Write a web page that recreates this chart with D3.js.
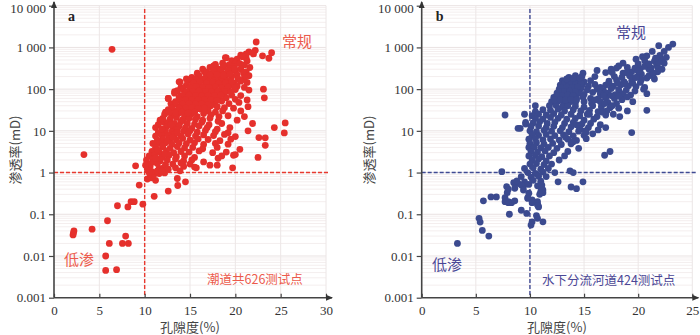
<!DOCTYPE html>
<html>
<head>
<meta charset="utf-8">
<script src="https://cdn.jsdelivr.net/npm/d3@7"></script>
<style>
  body { margin: 0; background: #fff; }
  svg { display: block; }
</style>
</head>
<body>
<svg id="chart" width="700" height="335"></svg>
<script>
// permeability tick values + labels (shared by both panels)
const permTicks = [0.001, 0.01, 0.1, 1, 10, 100, 1000, 10000];
const permTickLabels = ["0.001", "0.01", "0.1", "1", "10", "100", "1 000", "10 000"];
const porTicksA = [0, 5, 10, 15, 20, 25, 30];
const porTicksB = [0, 5, 10, 15, 20, 25];

// panel a: tidal channel, [porosity %, permeability mD]
const channelPts = [
  [6.4,900],[3.3,2.7],[9.0,1.45],[2.1,0.032],[2.2,0.04],[2.15,0.036],[4.2,0.044],[5.9,0.07],[5.7,0.01],[5.7,0.0045],
  [6.9,0.0047],[6.1,0.02],[7.55,0.02],[8.2,0.02],[7.9,0.03],[7.0,0.16],[8.15,0.15],[8.5,0.2],[8.85,0.2],[9.8,0.175],
  [9.4,0.5],[11.05,0.27],[12.6,0.36],[13.65,0.49],[14.5,0.6],[13.6,0.72],[10.3,0.7],[10.7,0.75],[11.2,0.65],[11.0,0.88],
  [10.6,0.92],[11.6,0.95],[12.2,0.98],[19.7,1.3],[18.0,1.5],[15.5,1.35],[15.7,1.3],[13.4,1.3],[14.3,1.4],[13.9,1.1],
  [11.6,1.25],[12.1,1.3],[10.6,1.4],[10.3,1.2],
  [25.5,15.5],[25.4,8.9],[24.3,12],[22.6,6.9],[23.3,6.8],[23.3,4.5],[22.5,2.3],[21.4,10],[21.9,15],[23.2,62],
  [23.1,100],[22.3,1350],[22.2,850],[24.0,750],[23.0,630],[23.7,550],[18.9,570],[13.8,150],[12.6,60],[13.0,24],
  [12.1,16],[13.3,87],[17.8,360],[21.2,550],[21.5,780],[21.2,700],[20.6,650],
  [19.0,560],[19.6,480],[20.2,520],[20.8,600],[21.3,470],[20.0,420],[22.0,700],
  [17.8,390],[18.6,420],[19.3,380],[19.9,350],[20.5,410],[21.0,380],[21.6,330],[18.2,300],
  [16.4,300],[17.2,330],[18.0,290],[18.7,340],[19.4,310],[20.0,280],[20.6,300],[21.2,260],[17.6,360],
  [15.8,240],[16.6,260],[17.3,230],[18.1,250],[18.8,235],[19.5,260],[20.2,220],[20.9,245],[21.5,210],[16.9,200],
  [15.2,190],[16.0,210],[16.7,185],[17.5,205],[18.2,195],[18.9,180],[19.6,200],[20.3,175],[21.0,190],[15.6,175],
  [13.9,150],[15.0,160],[15.7,145],[16.4,170],[17.1,155],[17.8,165],[18.5,150],[19.2,160],[19.9,140],[20.6,155],[21.3,145],[14.6,175],
  [14.6,125],[15.3,130],[16.0,118],[16.7,128],[17.4,120],[18.1,132],[18.8,115],[19.5,125],[20.2,118],[21.0,110],[14.0,110],
  [14.2,100],[15.0,95],[15.7,105],[16.4,98],[17.1,102],[17.8,94],[18.5,100],[19.2,92],[20.0,98],[21.5,95],[13.6,92],
  [13.3,80],[14.5,82],[15.3,77],[16.0,84],[16.7,79],[17.4,76],[18.1,82],[18.8,78],[19.6,72],[20.6,70],[14.0,70],
  [12.6,60],[13.8,63],[14.6,66],[15.3,60],[16.0,64],[16.8,61],[17.5,66],[18.2,58],[19.0,62],[20.0,57],[21.3,55],
  [13.4,50],[14.1,48],[14.9,52],[15.6,47],[16.3,51],[17.0,49],[17.7,46],[18.5,52],[19.3,45],[20.4,48],[12.9,45],
  [13.0,40],[13.8,38],[14.5,41],[15.2,39],[15.9,42],[16.6,37],[17.3,40],[18.0,38],[18.8,36],[19.8,35],[21.4,38],
  [12.6,32],[13.4,30],[14.1,33],[14.8,31],[15.5,29],[16.2,33],[17.0,30],[17.8,28],[18.6,30],[20.6,30],[12.3,28],
  [12.2,25],[13.0,24],[13.7,26],[14.4,23],[15.1,25],[15.8,22],[16.5,26],[17.3,24],[18.2,22],[19.2,23],[21.0,22],
  [12.0,20],[12.8,19],[13.5,21],[14.2,18.5],[14.9,20],[15.6,19],[16.4,18],[17.2,20],[18.1,17],[20.2,18],[11.7,18],
  [12.6,16],[13.3,15],[14.0,16.5],[14.7,15],[15.5,14.5],[16.3,16],[17.1,14],[18.5,15],[11.5,14],
  [12.4,12.5],[13.1,12],[13.8,13],[14.5,12],[15.2,11.5],[16.0,13],[16.9,12],[18.0,11],[19.4,12],[11.2,12],
  [12.3,10],[13.0,9.5],[13.6,10.5],[14.3,9.8],[15.0,10],[15.8,9.3],[16.7,10.2],[17.8,9.5],[19.2,9],[11.5,9],
  [11.9,8],[12.6,7.8],[13.3,8.2],[14.0,7.6],[14.8,8.4],[15.6,7.5],[16.5,8],[17.6,7.7],[18.8,8.2],[20.0,7.3],[11.2,7.5],
  [12.0,6.3],[12.8,6.5],[13.5,6.1],[14.2,6.6],[15.0,6],[15.9,6.4],[17.0,6.2],[18.3,5.8],[19.5,6.3],[11.4,6],
  [11.6,5],[12.3,5.2],[13.0,4.8],[13.8,5.1],[14.6,4.9],[15.5,5.2],[16.5,4.7],[17.8,5],[19.2,4.8],[10.9,5],
  [11.2,4],[12.0,4.1],[12.8,3.8],[13.6,4.2],[14.4,3.9],[15.3,4],[16.4,3.7],[18.0,4],[20.5,3.6],
  [10.8,3.2],[11.6,3.1],[12.4,3.3],[13.2,3],[14.0,3.2],[14.9,3.1],[16.0,3.3],[17.5,3],[19.0,3.1],[20.0,2.7],
  [10.5,2.5],[11.1,2.6],[11.9,2.4],[12.7,2.6],[13.5,2.4],[14.4,2.5],[15.5,2.3],[18.5,2.5],[19.8,2.6],
  [10.2,2],[10.9,2.1],[11.7,1.9],[12.5,2],[13.4,2.1],[14.3,1.9],[15.2,2],[16.5,1.8],[18.1,2.2],
  [10.6,1.6],[11.4,1.65],[12.3,1.55],[13.1,1.6],[14.0,1.7],[15.0,1.6],[17.2,1.5],[10.1,1.5],
  [10.8,1.05],[11.4,1.1],[12.6,1.2],[10.5,1.0],[11.9,1.08],
  [15.4,140],[16.1,150],[16.8,140],[17.5,145],[18.2,138],[18.9,142],[19.6,150],
  [15.0,110],[15.7,115],[16.4,110],[17.1,108],[17.8,112],[18.5,108],[19.2,112],[19.9,108],
  [14.6,87],[15.3,88],[16.0,90],[16.7,88],[17.4,86],[18.1,89],[18.8,88],[19.5,85],
  [14.2,70],[14.9,72],[15.6,70],[16.3,69],[17.0,71],[17.7,70],[18.4,72],
  [13.8,56],[14.5,55],[15.2,56],[15.9,55],[16.6,56],[17.3,55],[18.0,54],
  [13.4,44],[14.2,44],[14.9,45],[15.6,44],[16.3,44],[17.0,43],
  [13.0,35],[13.8,35],[14.5,35],[15.2,36],[15.9,34],[16.6,35],
  [12.7,28],[13.4,27],[14.1,28],[14.8,27],[15.5,28],
  [16.8,260],[17.6,270],[18.4,275],[19.2,280],[19.9,300],[17.2,220],[18.0,225],[18.7,215],[19.4,230],
  [11.0,1.8],[11.8,2.2],[12.2,2.8],[11.4,3.5],[12.0,4.5],[12.5,5.8],[13.1,7],[13.6,9],[12.9,14],[11.9,11],[11.2,2.2]
];

// panel b: underwater distributary channel
const deltaPts = [
  [23.2,1200],[22.8,1000],[21.9,1100],[22.4,800],[21.3,800],[20.8,630],[20.4,600],[22.0,640],[22.2,500],[21.5,470],
  [19.8,520],[20.6,480],[18.6,420],[18.2,360],[21.2,320],[22.4,420],[20.0,400],[21.7,380],[17.5,300],[14.9,240],
  [16.0,200],[20.8,78],[20.8,31],[19.4,9.1],[19.5,50],[7.7,24],[9.1,11.5],[8.9,11.5],[9.6,14.5],[10.5,40],
  [10.5,29],[10.2,23],[9.5,25],[7.4,1.05],[5.7,0.21],[6.4,0.26],[6.9,0.26],[5.3,0.08],[5.4,0.065],[5.6,0.041],
  [6.2,0.03],[3.3,0.02],[8.1,0.1],[9.2,0.125],[9.7,0.105],[10.2,0.066],[10.1,0.055],[10.6,0.093],[10.7,0.08],[11.2,0.066],
  [10.7,0.17],[10.8,0.15],[11.0,0.35],[11.2,0.38],[12.6,0.6],[13.8,0.45],[14.3,0.41],[14.9,0.6],[13.7,1.1],[12.3,1.0],
  [14.0,1.0],[16.9,2.6],[17.4,3.2],[7.7,0.2],[7.9,0.33],[8.0,0.19],[8.3,0.19],[8.6,0.21],[9.8,0.24],[8.5,0.57],
  [8.9,0.55],[9.4,0.46],[8.6,0.42],[7.85,0.46],[9.9,0.32],[10.2,0.22],
  [19.0,330],[20.2,310],[21.0,300],[21.8,340],[16.2,280],
  [17.0,250],[18.6,240],[19.4,260],[20.3,230],[21.3,250],[20.0,200],
  [13.6,190],[14.2,210],[14.8,200],[17.8,200],[18.5,190],[19.2,210],[20.8,185],[21.5,175],
  [13.0,160],[13.5,170],[14.0,155],[14.5,165],[15.0,150],[15.6,160],[17.3,155],[18.0,165],[18.7,150],[19.4,160],[20.2,145],
  [12.8,125],[13.3,130],[13.8,120],[14.3,128],[14.8,122],[15.4,118],[16.0,130],[17.0,125],[17.7,118],[18.4,128],[19.1,120],[19.8,115],[20.6,110],
  [12.7,100],[13.2,95],[13.7,104],[14.2,98],[14.7,102],[15.3,96],[16.2,100],[16.8,92],[17.5,103],[18.2,97],[18.9,95],[19.7,90],[20.5,100],
  [12.5,80],[13.0,78],[13.5,82],[14.0,76],[14.5,80],[15.0,75],[15.8,84],[16.5,78],[17.2,80],[17.9,74],[18.6,78],[19.3,72],
  [12.2,63],[12.8,60],[13.3,65],[13.8,62],[14.3,60],[14.9,64],[15.6,60],[16.3,58],[17.0,62],[17.8,60],[18.5,56],
  [12.0,50],[12.6,52],[13.1,48],[13.7,50],[14.2,47],[15.0,50],[15.7,46],[16.5,50],[17.2,48],[18.0,45],
  [11.8,40],[12.4,41],[13.0,38],[13.5,40],[14.2,39],[15.0,37],[15.8,40],[16.6,38],[17.4,36],[18.2,35],
  [11.2,32],[11.9,31],[12.6,33],[13.2,30],[14.0,32],[14.7,30],[15.5,31],[16.3,29],[17.1,30],
  [10.8,25],[11.5,24],[12.2,26],[12.9,24],[13.8,25],[14.6,23],[15.3,25],[16.2,22],[17.0,24],
  [10.5,20],[11.2,19],[11.9,21],[12.6,20],[13.4,19],[14.2,20],[15.0,18],[15.9,19],
  [9.6,16],[10.3,15.5],[10.9,16.5],[11.6,15],[12.3,16],[13.2,15],[14.0,16],[14.8,14.5],[15.6,15],[16.5,14],
  [10.1,12.5],[10.8,13],[11.5,12],[12.2,12.8],[13.0,12],[13.8,12.5],[14.6,11.5],[15.4,12],
  [10.0,10],[10.6,9.5],[11.3,10.3],[12.0,9.8],[12.8,10],[13.6,9.5],[14.5,9.8],[15.2,9.2],
  [10.2,8],[10.8,7.8],[11.5,8.2],[12.3,7.7],[13.1,8],[14.0,7.6],[15.0,7.8],
  [9.9,6.3],[10.5,6.5],[11.2,6.1],[11.9,6.4],[12.7,6],[13.5,6.3],[14.3,5.9],
  [10.0,5],[10.6,5.2],[11.3,4.8],[12.1,5],[12.9,4.7],[13.8,4.9],
  [9.9,4],[10.4,4.1],[11.0,3.9],[11.7,4],[12.5,3.8],
  [10.1,3.2],[10.7,3.1],[11.4,3.3],[12.2,3],[13.5,3.2],
  [9.9,2.5],[10.5,2.6],[11.1,2.4],[11.8,2.5],
  [10.2,2],[10.8,2.1],[11.5,1.9],
  [10.0,1.6],[10.6,1.65],[11.3,1.55],[12.0,1.6],
  [9.5,1.25],[10.3,1.3],[11.0,1.2],[11.7,1.25],
  [9.8,1],[10.5,0.95],[11.2,1.02],
  [9.2,0.8],[10.1,0.78],[10.8,0.82],[11.5,0.8],
  [8.8,0.63],[9.5,0.6],[10.3,0.65],[11.0,0.62],
  [9.2,0.5],[9.9,0.52],[10.7,0.48],[11.1,0.5],
  [8.0,0.4],[9.4,0.38],[11.1,0.42],
  [10.9,0.3],[11.2,0.33],[7.7,0.25],[9.8,0.25],
  [8.0,0.2],[10.2,0.19],[10.7,0.2],[10.75,0.16],
  [13.2,140],[13.7,145],[14.2,140],[14.7,138],[12.9,110],[13.4,112],[13.9,108],[14.4,112],
  [12.7,88],[13.2,88],[13.7,90],[14.2,87],[12.5,70],[13.0,70],[13.5,72],[14.0,70],
  [12.3,55],[12.8,56],[13.3,55],[13.8,57],[14.3,55],[13.4,175],[14.0,180],[14.6,185],
  [16.5,110],[17.3,140],[18.1,140],[18.8,135],[19.5,140],[16.8,70],[17.5,70],[18.2,68],[19.0,65],
  [16.0,55],[16.9,45],[17.6,40],[15.5,25],[16.7,28],[17.7,25],[18.3,22],[19.0,30],
  [14.3,14],[15.1,10],[15.8,8.5],[16.3,10.5],[17.0,12],[13.3,7],[14.0,5.5],[15.2,6.5],[14.5,3.8],[13.2,2.5],[12.7,2],
  [19.5,180],[20.3,170],[21.0,210],[21.8,260],[22.2,300],[21.4,230],[19.8,190],[18.9,250],[19.7,320],[20.6,350],
  [21.0,400],[21.9,450],[21.6,550],[22.6,580],[20.0,270],[18.0,320],[17.6,250]
];

const svg = d3.select("#chart");
const serif = "'Liberation Serif','DejaVu Serif',serif";
const cjk = "'Noto Sans CJK SC','Noto Sans CJK JP',sans-serif";

function drawPanel(cfg) {
  const x = d3.scaleLinear().domain([0, cfg.xMax]).range([cfg.left, cfg.right]);
  const y = d3.scaleLog().domain([0.001, 10000]).range([297.7, 5.7]);
  const g = svg.append("g");

  // faint minor grid (log minors)
  const minors = [];
  for (let e = -3; e < 4; e++) for (let k = 2; k <= 9; k++) minors.push(k * Math.pow(10, e));
  g.selectAll(".minor").data(minors).join("line")
    .attr("x1", cfg.left).attr("x2", cfg.right)
    .attr("y1", d => y(d)).attr("y2", d => y(d))
    .attr("stroke", "#f4eeee").attr("stroke-width", 1);
  g.selectAll(".major").data(permTicks.slice(1)).join("line")
    .attr("x1", cfg.left).attr("x2", cfg.right)
    .attr("y1", d => y(d)).attr("y2", d => y(d))
    .attr("stroke", "#e9e2e2").attr("stroke-width", 1);
  g.selectAll(".vgrid").data(cfg.xTicks.slice(1)).join("line")
    .attr("x1", d => x(d)).attr("x2", d => x(d))
    .attr("y1", y(10000)).attr("y2", y(0.001))
    .attr("stroke", "#ece6e6").attr("stroke-width", 1);

  // dashed cut-off lines
  g.append("line")
    .attr("x1", cfg.left).attr("x2", cfg.right + 4)
    .attr("y1", y(1)).attr("y2", y(1))
    .attr("stroke", cfg.color).attr("stroke-width", 1.4).attr("stroke-dasharray", "4,2");
  g.append("line")
    .attr("x1", x(10)).attr("x2", x(10))
    .attr("y1", 9).attr("y2", y(0.001))
    .attr("stroke", cfg.color).attr("stroke-width", 1.4).attr("stroke-dasharray", "4,2");

  // points
  g.selectAll("circle").data(cfg.data).join("circle")
    .attr("cx", d => x(d[0])).attr("cy", d => y(d[1]))
    .attr("r", 3.4).attr("fill", cfg.fill);

  // axes
  const yAxis = d3.axisLeft(y).tickValues(permTicks)
    .tickFormat((d, i) => permTickLabels[i]).tickSize(5).tickPadding(3);
  const ya = g.append("g").attr("transform", `translate(${cfg.left},0)`).call(yAxis);
  ya.select(".domain").remove();
  ya.selectAll("line").attr("stroke", "#444").attr("stroke-width", 1.2);
  ya.selectAll("text").attr("font-family", serif).attr("font-size", 13).attr("fill", "#333")
    .attr("dy", d => d === 10000 ? "0.5em" : "0.32em");

  const xAxis = d3.axisBottom(x).tickValues(cfg.xTicks).tickSize(-4).tickPadding(8);
  const xa = g.append("g").attr("transform", `translate(0,${y(0.001)})`).call(xAxis);
  xa.select(".domain").remove();
  xa.selectAll("line").attr("stroke", "#444").attr("stroke-width", 1.2);
  xa.selectAll("text").attr("font-family", serif).attr("font-size", 13).attr("fill", "#333");

  // axis lines with arrows
  g.append("line").attr("x1", cfg.left).attr("x2", cfg.left)
    .attr("y1", y(0.001)).attr("y2", 2).attr("stroke", "#444").attr("stroke-width", 1.6);
  g.append("path").attr("d", `M${cfg.left},1 l-3,7 l6,0 z`).attr("fill", "#333");
  g.append("line").attr("x1", cfg.left).attr("x2", cfg.right + 6)
    .attr("y1", y(0.001)).attr("y2", y(0.001)).attr("stroke", "#444").attr("stroke-width", 1.6);
  g.append("path").attr("d", `M${cfg.right + 7},${y(0.001)} l-7,-3 l0,6 z`).attr("fill", "#333");

  // titles
  g.append("text").attr("x", (cfg.left + cfg.right) / 2).attr("y", 332)
    .attr("text-anchor", "middle").attr("font-family", cjk).attr("font-size", 13).attr("fill", "#444")
    .text("孔隙度(%)");
  g.append("text").attr("transform", `translate(${cfg.yTitleX},150) rotate(-90)`)
    .attr("text-anchor", "middle").attr("dominant-baseline", "central")
    .attr("font-family", cjk).attr("font-size", 13).attr("fill", "#444")
    .text("渗透率(mD)");

  g.append("text").attr("x", cfg.left + 14).attr("y", 21)
    .attr("font-family", serif).attr("font-weight", "bold").attr("font-size", 14).attr("fill", "#222")
    .text(cfg.tag);

  g.append("text").attr("x", cfg.normal[0]).attr("y", cfg.normal[1])
    .attr("font-family", cjk).attr("font-size", 15).attr("fill", cfg.textColor).text("常规");
  g.append("text").attr("x", cfg.low[0]).attr("y", cfg.low[1])
    .attr("font-family", cjk).attr("font-size", 15).attr("fill", cfg.textColor).text("低渗");
  g.append("text").attr("x", cfg.note[0]).attr("y", cfg.note[1])
    .attr("font-family", cjk).attr("font-size", 12.5).attr("fill", cfg.textColor).text(cfg.noteText);
}

drawPanel({
  data: channelPts, xMax: 30, xTicks: porTicksA, left: 54, right: 326,
  color: "#e8392f", fill: "#e5302c", textColor: "#ec5a4c", tag: "a", yTitleX: 14,
  normal: [282, 47], low: [64, 265], note: [207, 284], noteText: "潮道共626测试点"
});
drawPanel({
  data: deltaPts, xMax: 25, xTicks: porTicksB, left: 421.7, right: 692.3,
  color: "#3f4a93", fill: "#3b4a8f", textColor: "#4b4796", tag: "b", yTitleX: 368,
  normal: [616, 38], low: [432, 270], note: [542, 285], noteText: "水下分流河道424测试点"
});
</script>
</body>
</html>
